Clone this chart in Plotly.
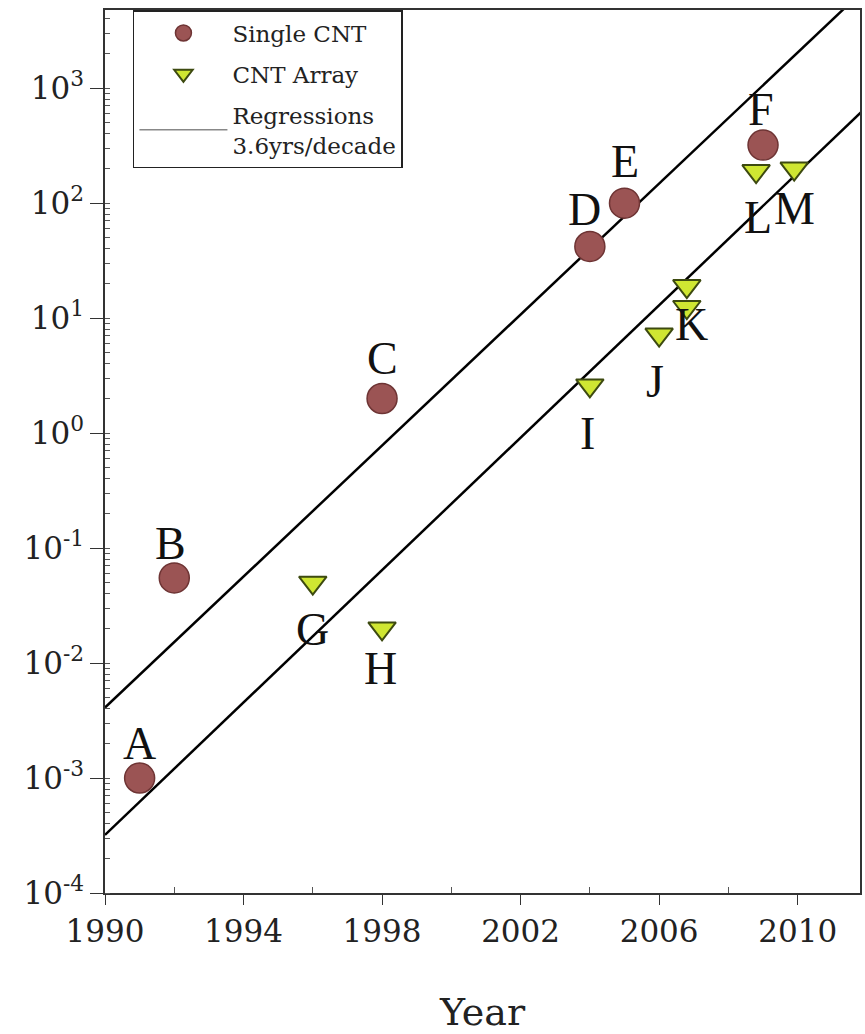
import math
import plotly.graph_objects as go

# ---- data ----
single_labels = ["A", "B", "C", "D", "E", "F"]
single_years = [1991, 1992, 1998, 2004, 2005, 2009]
single_values = [1e-3, 0.055, 2.0, 42, 100, 320]

array_labels = ["G", "H", "I", "J", "K", "K", "L", "M"]
array_years = [1996, 1998, 2004, 2006, 2006.8, 2006.8, 2008.8, 2009.9]
array_values = [0.05, 0.02, 2.6, 7.2, 19, 12.5, 190, 200]

reg_upper_x = [1990, 2012]
reg_upper_y = [0.0041, 10 ** 3.88]
reg_lower_x = [1990, 2012]
reg_lower_y = [0.00032, 10 ** 2.84]

x_tickvals = [1990, 1994, 1998, 2002, 2006, 2010]
y_tickvals = [1e-4, 1e-3, 1e-2, 1e-1, 1, 10, 100, 1000]
y_ticktext = ["10<sup>-4</sup>", "10<sup>-3</sup>", "10<sup>-2</sup>", "10<sup>-1</sup>",
              "10<sup>0</sup>", "10<sup>1</sup>", "10<sup>2</sup>", "10<sup>3</sup>"]

# label offsets in pixels (dx, dy) relative to marker
single_offsets = [(0, 35), (-4, 34), (0, 40), (-5, 37), (0, 42), (-2, 36)]
array_offsets = [(0, -47), (-2, -40), (-2, -48), (-4, -47), (5, -38), None, (2, -46), (0, -40)]

SERIF = "Liberation Serif"
WIDE_SERIF = "DejaVu Serif"

fig = go.Figure()

fig.add_trace(go.Scatter(x=reg_upper_x, y=reg_upper_y, mode="lines",
                         line=dict(color="black", width=2.5), showlegend=False,
                         hoverinfo="skip"))
fig.add_trace(go.Scatter(x=reg_lower_x, y=reg_lower_y, mode="lines",
                         line=dict(color="black", width=2.5), showlegend=False,
                         hoverinfo="skip"))

fig.add_trace(go.Scatter(x=single_years, y=single_values, mode="markers",
                         name="Single CNT", legendgroup="a",
                         marker=dict(symbol="circle", size=30, color="#9b5454",
                                     line=dict(color="#6e3434", width=1.5))))
fig.add_trace(go.Scatter(x=array_years, y=array_values, mode="markers",
                         name="CNT Array", legendgroup="b",
                         marker=dict(symbol="triangle-down", size=24, color="#cfe632",
                                     line=dict(color="#3d4a10", width=2))))
fig.add_trace(go.Scatter(x=[None], y=[None], mode="lines", legendgroup="c",
                         name="Regressions<br>3.6yrs/decade",
                         line=dict(color="#888888", width=1.5)))

for lab, xv, yv, off in zip(single_labels, single_years, single_values, single_offsets):
    fig.add_annotation(x=xv, y=math.log10(yv), text=lab, showarrow=False,
                       xshift=off[0], yshift=off[1],
                       font=dict(family=SERIF, size=46, color="#111111"))
for lab, xv, yv, off in zip(array_labels, array_years, array_values, array_offsets):
    if off is None:
        continue
    fig.add_annotation(x=xv, y=math.log10(yv), text=lab, showarrow=False,
                       xshift=off[0], yshift=off[1],
                       font=dict(family=SERIF, size=46, color="#111111"))

fig.update_layout(
    width=865, height=1034,
    margin=dict(l=105, r=5, t=10, b=141, autoexpand=False),
    plot_bgcolor="white", paper_bgcolor="white",
    font=dict(family=SERIF, color="#222222"),
    legend=dict(x=0.037, y=1, xanchor="left", yanchor="top",
                bordercolor="#222222", borderwidth=1.5, bgcolor="white",
                font=dict(family=WIDE_SERIF, size=23, color="#222222"),
                itemwidth=88, traceorder="grouped", tracegroupgap=8),
    xaxis=dict(range=[1990, 2011.8], tickvals=x_tickvals, ticks="outside",
               ticklen=10, tickcolor="#333333", showgrid=False, zeroline=False,
               showline=True, linecolor="#333333", linewidth=1.5, mirror=True,
               automargin=False,
               tickfont=dict(family=WIDE_SERIF, size=31, color="#222222"),
               minor=dict(tickvals=[1992, 1996, 2000, 2004, 2008], ticks="inside",
                          ticklen=6, tickcolor="#555555"),
               title=dict(text="Year", standoff=55,
                          font=dict(family=WIDE_SERIF, size=38, color="#222222"))),
    yaxis=dict(type="log", range=[-4, 3.68], tickvals=y_tickvals, ticktext=y_ticktext,
               ticks="outside", ticklen=13, tickcolor="#333333", showgrid=False,
               zeroline=False, showline=True, linecolor="#333333", linewidth=1.5,
               mirror=True, automargin=False,
               tickfont=dict(family=WIDE_SERIF, size=31, color="#222222"),
               minor=dict(ticks="inside", ticklen=5, tickcolor="#555555", dtick="D1")),
)

fig.write_html("out.html", config={"displayModeBar": False},
               post_script="document.body.style.margin='0';document.body.style.overflow='hidden';")
